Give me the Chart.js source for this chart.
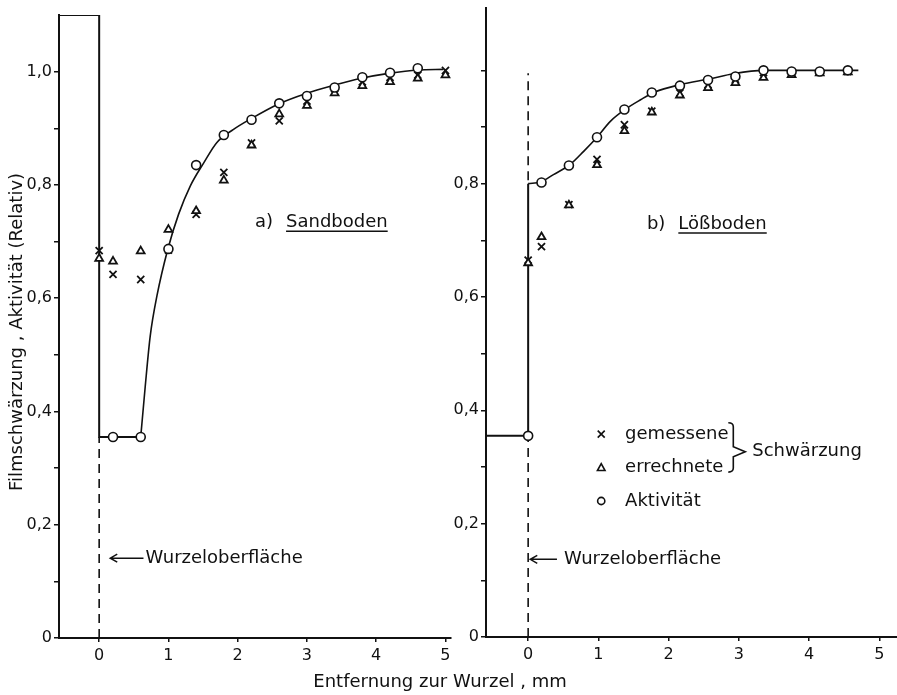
<!DOCTYPE html>
<html>
<head>
<meta charset="utf-8">
<script src="https://cdn.jsdelivr.net/npm/chart.js@4/dist/chart.umd.min.js"></script>
<style>
  html, body { margin: 0; padding: 0; background: #ffffff; }
  #wrap { position: relative; width: 897px; height: 695px; }
  canvas { position: absolute; left: 0; top: 0; }
</style>
</head>
<body>
<div id="wrap">
  <canvas id="left" width="897" height="695"></canvas>
  <canvas id="right" width="897" height="695"></canvas>
</div>
<script>
// ---------------- DATA ----------------
// a) Sandboden
const sandX          = [0, 0.2, 0.6, 1.0, 1.4, 1.8, 2.2, 2.6, 3.0, 3.4, 3.8, 4.2, 4.6, 5.0];
const sandGemessen   = [0.684, 0.642, 0.633, 0.685, 0.748, 0.822, 0.874, 0.913, 0.948, 0.970, 0.982, 0.990, 0.994, 1.002];
const sandErrechnet  = [0.670, 0.665, 0.683, 0.721, 0.754, 0.808, 0.870, 0.925, 0.940, 0.962, 0.975, 0.982, 0.988, 0.994];
const sandAktivitaet = [null, 0.355, 0.355, 0.687, 0.835, 0.888, 0.915, 0.944, 0.957, 0.972, 0.990, 0.998, 1.006, null];
const sandStepX  = [-0.58, 0, 0, 0.6];
const sandStepY  = [1.1, 1.1, 0.355, 0.355];
const sandCurveX = [0.6, 0.665, 0.737, 0.834, 0.99, 1.146, 1.315, 1.51, 1.70, 1.94, 2.18, 2.59, 3.0, 3.39, 3.77, 4.18, 4.61, 4.97];
const sandCurveY = [0.355, 0.444, 0.533, 0.604, 0.686, 0.748, 0.798, 0.839, 0.875, 0.898, 0.916, 0.943, 0.962, 0.976, 0.988, 0.997, 1.003, 1.004];
const sandRootX  = [0, 0];
const sandRootY  = [0, 0.355];

// b) Lößboden
const loessX          = [0, 0.19, 0.58, 0.98, 1.37, 1.76, 2.16, 2.56, 2.95, 3.35, 3.75, 4.15, 4.55];
const loessGemessen   = [0.665, 0.689, 0.763, 0.843, 0.904, 0.928, 0.960, 0.975, 0.984, 0.996, 0.995, 0.997, 0.998];
const loessErrechnet  = [0.660, 0.706, 0.762, 0.833, 0.893, 0.926, 0.956, 0.969, 0.978, 0.987, 0.992, 0.995, 0.997];
const loessAktivitaet = [0.355, 0.802, 0.832, 0.882, 0.931, 0.961, 0.973, 0.983, 0.989, 1.000, 0.998, 0.998, 1.000];
const loessStepX  = [-0.6, 0, 0];
const loessStepY  = [0.355, 0.355, 0.80];
const loessCurveX = [0, 0.18, 0.36, 0.59, 0.79, 0.98, 1.17, 1.38, 1.60, 1.79, 2.17, 2.59, 2.92, 3.35, 4.70];
const loessCurveY = [0.80, 0.803, 0.816, 0.833, 0.857, 0.882, 0.910, 0.931, 0.948, 0.961, 0.975, 0.985, 0.994, 1.000, 1.000];
const loessRootX  = [0, 0, 0, 0, 0];
const loessRootY  = [0, 0.355, null, 0.806, 0.995];

// ticks
const xTickValues = [0, 1, 2, 3, 4, 5];
const yTickValues = [0, 0.1, 0.2, 0.3, 0.4, 0.5, 0.6, 0.7, 0.8, 0.9, 1.0];
const leftYLabels  = ['0', '', '0,2', '', '0,4', '', '0,6', '', '0,8', '', '1,0'];
const rightYLabels = ['0', '', '0,2', '', '0,4', '', '0,6', '', '0,8', '', ''];

// texts
const yTitle = 'Filmschwärzung , Aktivität (Relativ)';
const xTitle = 'Entfernung zur Wurzel , mm';
const legendNames = ['gemessene', 'errechnete', 'Aktivität'];
const legendGroup = 'Schwärzung';

// ---------------- HELPERS ----------------
const INK = '#111111';
const FONT = '"DejaVu Sans", sans-serif';
const pts = (xs, ys) => xs.map((x, i) => ({ x: x, y: ys[i] }));

function scatterSets(xs, gem, err, akt) {
  return [
    { label: 'Aktivität', data: pts(xs, akt), pointStyle: 'circle', pointRadius: 4.5,
      pointBackgroundColor: '#ffffff', pointBorderColor: INK, pointBorderWidth: 1.6, showLine: false },
    { label: 'errechnete', data: pts(xs, err), pointStyle: 'triangle', pointRadius: 4.5,
      pointBackgroundColor: '#ffffff', pointBorderColor: INK, pointBorderWidth: 1.8, showLine: false },
    { label: 'gemessene', data: pts(xs, gem), pointStyle: 'crossRot', pointRadius: 5,
      pointBorderColor: INK, pointBorderWidth: 1.8, showLine: false }
  ];
}
function lineSet(xs, ys, extra) {
  return Object.assign({ data: pts(xs, ys), showLine: true, pointRadius: 0, borderColor: INK,
    borderWidth: 1.8, tension: 0, spanGaps: false, fill: false }, extra || {});
}

function scalesCfg(xmin, xmax, ymax, yLabels, yWidth, xHeight) {
  return {
    x: {
      type: 'linear', min: xmin, max: xmax,
      afterBuildTicks: s => { s.ticks = xTickValues.map(v => ({ value: v })); },
      afterFit: s => { s.height = xHeight; s.paddingLeft = 0; s.paddingRight = 0; },
      ticks: { color: INK, font: { family: FONT, size: 16 }, padding: 4, maxRotation: 0,
               callback: v => String(v) },
      grid: { drawOnChartArea: false, drawTicks: true, tickLength: 4, color: INK, lineWidth: 1.5 },
      border: { display: true, color: INK, width: 2 }
    },
    y: {
      type: 'linear', min: 0, max: ymax,
      afterBuildTicks: s => { s.ticks = yTickValues.map(v => ({ value: v })); },
      afterFit: s => { s.width = yWidth; s.paddingTop = 0; s.paddingBottom = 0; },
      ticks: { color: INK, font: { family: FONT, size: 16 }, padding: 2,
               callback: (v, i) => yLabels[i] },
      grid: { drawOnChartArea: false, drawTicks: true, tickLength: 5, color: INK, lineWidth: 1.5 },
      border: { display: true, color: INK, width: 2 }
    }
  };
}

function arrowLeft(ctx, x1, x2, y) {
  ctx.beginPath();
  ctx.moveTo(x2, y); ctx.lineTo(x1, y);
  ctx.moveTo(x1 + 7, y - 4); ctx.lineTo(x1, y); ctx.lineTo(x1 + 7, y + 4);
  ctx.stroke();
}
function underlinedLabel(ctx, prefix, word, px, py, gap) {
  ctx.textAlign = 'left'; ctx.textBaseline = 'middle';
  ctx.fillText(prefix, px, py);
  const wx = px + ctx.measureText(prefix).width + gap;
  ctx.fillText(word, wx, py);
  const w = ctx.measureText(word).width;
  ctx.beginPath(); ctx.lineWidth = 1.5;
  ctx.moveTo(wx, py + 9); ctx.lineTo(wx + w, py + 9); ctx.stroke();
}

const leftDeco = {
  id: 'leftDeco',
  afterDraw(chart) {
    const { ctx, scales: { x, y } } = chart;
    ctx.save();
    ctx.fillStyle = INK; ctx.strokeStyle = INK; ctx.lineWidth = 1.5;
    ctx.font = '18px ' + FONT;
    underlinedLabel(ctx, 'a)', 'Sandboden', x.getPixelForValue(2.25), y.getPixelForValue(0.734), 13);
    const ay = y.getPixelForValue(0.141);
    arrowLeft(ctx, x.getPixelForValue(0.16), x.getPixelForValue(0.64), ay);
    ctx.textAlign = 'left'; ctx.textBaseline = 'middle';
    ctx.fillText('Wurzeloberfläche', x.getPixelForValue(0.67), ay);
    // axis titles
    ctx.textAlign = 'center';
    ctx.fillText(xTitle, 440, 682);
    ctx.translate(17, 332); ctx.rotate(-Math.PI / 2);
    ctx.fillText(yTitle, 0, 0);
    ctx.restore();
  }
};

const rightDeco = {
  id: 'rightDeco',
  afterDraw(chart) {
    const { ctx, scales: { x, y } } = chart;
    ctx.save();
    ctx.fillStyle = INK; ctx.strokeStyle = INK; ctx.lineWidth = 1.5;
    ctx.font = '18px ' + FONT;
    underlinedLabel(ctx, 'b)', 'Lößboden', x.getPixelForValue(1.69), y.getPixelForValue(0.729), 13);
    const ay = y.getPixelForValue(0.137);
    arrowLeft(ctx, x.getPixelForValue(0.03), x.getPixelForValue(0.41), ay);
    ctx.textAlign = 'left'; ctx.textBaseline = 'middle';
    ctx.fillText('Wurzeloberfläche', x.getPixelForValue(0.51), ay);
    // legend
    const mx = x.getPixelForValue(1.04), tx = x.getPixelForValue(1.38);
    const ly = [0.358, 0.299, 0.240].map(v => y.getPixelForValue(v));
    ctx.lineWidth = 1.6;
    // cross
    ctx.beginPath();
    ctx.moveTo(mx - 3.5, ly[0] - 3.5); ctx.lineTo(mx + 3.5, ly[0] + 3.5);
    ctx.moveTo(mx + 3.5, ly[0] - 3.5); ctx.lineTo(mx - 3.5, ly[0] + 3.5);
    ctx.stroke();
    // triangle
    ctx.beginPath();
    ctx.moveTo(mx, ly[1] - 4); ctx.lineTo(mx + 3.8, ly[1] + 3); ctx.lineTo(mx - 3.8, ly[1] + 3); ctx.closePath();
    ctx.stroke();
    // circle
    ctx.beginPath(); ctx.arc(mx, ly[2], 3.6, 0, Math.PI * 2); ctx.stroke();
    legendNames.forEach((t, i) => ctx.fillText(t, tx, ly[i]));
    // brace
    const bx = x.getPixelForValue(2.92), tipx = x.getPixelForValue(3.09);
    const by1 = y.getPixelForValue(0.378), by2 = y.getPixelForValue(0.291), bym = y.getPixelForValue(0.327);
    ctx.lineWidth = 1.6;
    ctx.beginPath();
    ctx.moveTo(bx - 5, by1);
    ctx.quadraticCurveTo(bx, by1, bx, by1 + 4);
    ctx.lineTo(bx, bym - 5);
    ctx.lineTo(tipx, bym);
    ctx.lineTo(bx, bym + 5);
    ctx.lineTo(bx, by2 - 4);
    ctx.quadraticCurveTo(bx, by2, bx - 5, by2);
    ctx.stroke();
    ctx.fillText(legendGroup, x.getPixelForValue(3.19), bym);
    ctx.restore();
  }
};

const baseOptions = {
  responsive: false, animation: false, devicePixelRatio: 1,
  plugins: { legend: { display: false }, tooltip: { enabled: false } },
  events: []
};

new Chart(document.getElementById('left'), {
  type: 'scatter',
  data: {
    datasets: [
      ...scatterSets(sandX, sandGemessen, sandErrechnet, sandAktivitaet),
      lineSet(sandCurveX, sandCurveY, { cubicInterpolationMode: 'monotone', borderWidth: 1.6 }),
      lineSet(sandStepX, sandStepY, { borderWidth: 2 }),
      lineSet(sandRootX, sandRootY, { borderDash: [9, 6], borderWidth: 1.6 })
    ]
  },
  options: Object.assign({}, baseOptions, {
    layout: { autoPadding: false, padding: { top: 15, left: 0, bottom: 0, right: 446 } },
    scales: scalesCfg(-0.58, 5.08, 1.1, leftYLabels, 59, 57)
  }),
  plugins: [leftDeco]
});

new Chart(document.getElementById('right'), {
  type: 'scatter',
  data: {
    datasets: [
      ...scatterSets(loessX, loessGemessen, loessErrechnet, loessAktivitaet),
      lineSet(loessCurveX, loessCurveY, { cubicInterpolationMode: 'monotone', borderWidth: 1.6 }),
      lineSet(loessStepX, loessStepY, { borderWidth: 2 }),
      lineSet(loessRootX, loessRootY, { borderDash: [9, 6], borderWidth: 1.6 })
    ]
  },
  options: Object.assign({}, baseOptions, {
    layout: { autoPadding: false, padding: { top: 8, left: 0, bottom: 0, right: 0 } },
    scales: scalesCfg(-0.6, 5.25, 1.11, rightYLabels, 486, 58)
  }),
  plugins: [rightDeco]
});
</script>
</body>
</html>
